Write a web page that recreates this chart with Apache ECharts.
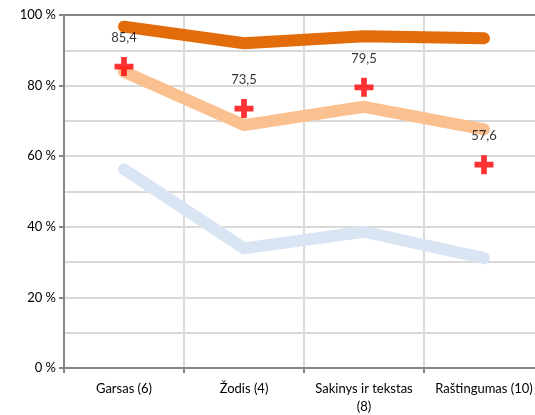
<!DOCTYPE html>
<html><head><meta charset="utf-8">
<script src="https://cdn.jsdelivr.net/npm/echarts@6/dist/echarts.min.js"></script>
<style>html,body{margin:0;padding:0;background:#fff}#c{width:535px;height:415px}</style>
</head><body><div id="c"></div>
<script>
const categories = ['Garsas (6)', 'Žodis (4)', 'Sakinys ir tekstas\n(8)', 'Raštingumas (10)'];
const darkOrange = [96.7, 92.0, 94.0, 93.4];
const lightOrange = [83.9, 68.8, 74.0, 67.6];
const lightBlue = [56.3, 33.9, 38.6, 31.1];
const markers = [85.4, 73.5, 79.5, 57.6];
const yTicks = [0, 20, 40, 60, 80, 100];

const plus = 'path://M7,0 H13 V7 H20 V13 H13 V20 H7 V13 H0 V7 H7 Z';
const font = 'Lato, "Open Sans", sans-serif';
const chart = echarts.init(document.getElementById('c'));
const lineS = (data, color) => ({
  type: 'line', data, symbol: 'none', silent: true, z: 2,
  lineStyle: { color, width: 12, cap: 'round', join: 'round' }
});
chart.setOption({
  animation: false,
  grid: { left: 64, top: 15, width: 480, height: 353, outerBoundsMode: 'none', containLabel: false },
  xAxis: [{
    type: 'category', data: categories, boundaryGap: true,
    axisLine: { lineStyle: { color: '#868686', width: 2 } },
    axisTick: { show: true, length: 5, lineStyle: { color: '#868686', width: 2 } },
    axisLabel: { color: '#000', fontFamily: font, fontSize: 13, margin: 12, interval: 0, lineHeight: 18, hideOverlap: false },
    splitLine: { show: true, lineStyle: { color: '#D9D9D9', width: 2 } }
  }, {
    type: 'category', data: categories, position: 'top',
    axisLine: { lineStyle: { color: '#868686', width: 2 } },
    axisTick: { show: false }, axisLabel: { show: false }
  }],
  yAxis: {
    type: 'value', min: yTicks[0], max: yTicks[yTicks.length - 1], interval: 20,
    axisLine: { show: true, lineStyle: { color: '#868686', width: 2 } },
    axisTick: { show: true, length: 5, lineStyle: { color: '#868686', width: 2 } },
    axisLabel: { color: '#000', fontFamily: font, fontSize: 13, margin: 8, formatter: v => v + ' %' },
    splitLine: { show: true, lineStyle: { color: '#D9D9D9', width: 2 } },
    minorTick: { show: false, splitNumber: 2 },
    minorSplitLine: { show: true, lineStyle: { color: '#D9D9D9', width: 2 } }
  },
  series: [
    lineS(lightBlue, '#DAE5F4'),
    lineS(lightOrange, '#FAC090'),
    lineS(darkOrange, '#E36C0A'),
    {
      type: 'scatter', data: markers, symbol: plus, symbolSize: 19, z: 10,
      itemStyle: { color: '#FF0000' },
      label: { show: true, position: 'top', distance: 13, color: '#000', fontFamily: font, fontSize: 13,
        formatter: p => String(p.value).replace('.', ',') }
    }
  ]
});
</script></body></html>
